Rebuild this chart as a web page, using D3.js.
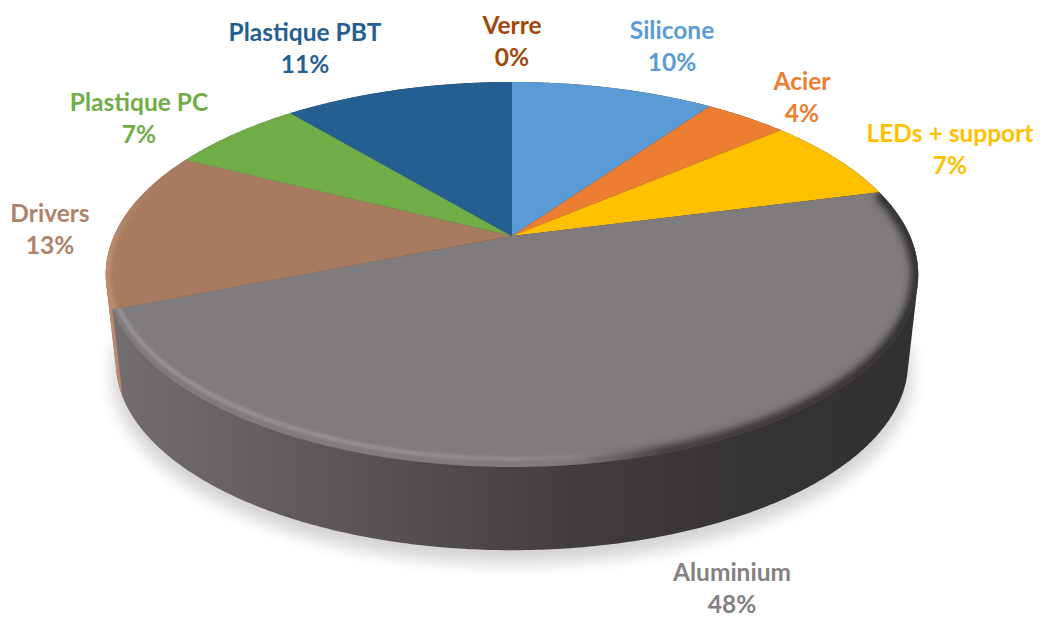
<!DOCTYPE html>
<html><head><meta charset="utf-8">
<script src="https://cdn.jsdelivr.net/npm/d3@7"></script>
<style>html,body{margin:0;padding:0;background:#fff;overflow:hidden}svg{display:block}text{font-family:Lato,"Open Sans",sans-serif;font-weight:700;font-size:24.5px;text-anchor:middle}</style>
</head><body><svg id="c" width="1043" height="617"></svg>
<script>
const categories = ["Silicone","Acier","LEDs + support","Aluminium","Drivers","Plastique PC","Plastique PBT","Verre"];
const shares = [9.8,4.0,7.2,48.0,13.4,6.5,11.1,0];
const colors = ["#5b9bd5","#ed7d31","#ffc000","#807b7c","#a87b60","#70ad47","#255e91","#9e480e"];
const labelColors = ["#5b9bd5","#ed7d31","#ffc000","#857f80","#ae8268","#70ad47","#255e91","#9e480e"];
const labelCenters = [[672,31],[802,82],[950,134],[732,573],[50,214],[139,103],[305,33],[512,26]];

const W=1043,H=617,cx=512,cy=236,A=398,B=184.8,K=0.2;
const depthY=89,depthS=0.975,lineGap=32;
const proj=(a,s=1,dy=0)=>{const u=Math.sin(a),v=-Math.cos(a),d=1-K*v;
  return [cx+s*A*u/d, cy+dy+s*B*v/d];};
const arcPts=(a0,a1,s=1,dy=0)=>{const n=Math.max(2,Math.ceil((a1-a0)/0.01));
  return d3.range(n+1).map(i=>proj(a0+(a1-a0)*i/n,s,dy));};
const line=d3.line().curve(d3.curveLinear);
const closed=p=>line(p)+"Z";
const svg=d3.select("#c");
const defs=svg.append("defs");
const blur=(id,sd)=>defs.append("filter").attr("id",id).attr("x","-20%").attr("y","-20%").attr("width","140%").attr("height","140%")
  .append("feGaussianBlur").attr("stdDeviation",sd);
blur("b8",8);blur("b2",1.8);blur("b4",3.5);
const grad=(id,x1,x2,stops)=>{const g=defs.append("linearGradient").attr("id",id).attr("gradientUnits","userSpaceOnUse")
  .attr("x1",x1).attr("x2",x2).attr("y1",0).attr("y2",0);
  stops.forEach(s=>g.append("stop").attr("offset",s[0]).attr("stop-color",s[1]).attr("stop-opacity",s[2]===undefined?1:s[2]));};
grad("side",115,905,[[0,"#726d6e"],[.2,"#625d5e"],[.4,"#514c4d"],[.6,"#403c3d"],[.8,"#363334"],[1,"#333031"]]);
grad("hi",115,905,[[0,"#9c9798"],[.3,"#9a9596"],[.5,"#948f90"],[.62,"#8a8586",.4],[.68,"#807b7c",0],[1,"#807b7c",0]]);
grad("edge",115,905,[[0,"#3a3738",0],[.58,"#3a3738",0],[.7,"#3a3738",.9],[1,"#333031"]]);
grad("driversRim",100,160,[[0,"#c69272"],[1,"#a87b60",0]]);

const all=d3.range(0,2*Math.PI+.01,.01);
const hull=d3.polygonHull(all.flatMap(a=>[proj(a),proj(a,depthS,depthY)]));
const slices=d3.pie().sort(null).value(d=>d)(shares);
const alu=slices[categories.indexOf("Aluminium")];
const dr=slices[categories.indexOf("Drivers")];

// ground shadow
svg.append("path").attr("d",closed(all.map(a=>proj(a,.985,depthY+11)))).attr("fill","#000").attr("opacity",.17).attr("filter","url(#b8)");

// side wall: full silhouette, with the drivers portion left of the slice boundary
svg.append("path").attr("d",closed(hull)).attr("fill","url(#side)");
const p0=proj(alu.endAngle),p1=proj(alu.endAngle,depthS,depthY);
const ext=[p1[0]+(p1[0]-p0[0])*2,p1[1]+(p1[1]-p0[1])*2];
const ext0=[p0[0]-(p1[0]-p0[0])*4,p0[1]-(p1[1]-p0[1])*4];
defs.append("clipPath").attr("id","drSide").append("path").attr("d",closed([ext0,ext,[0,ext[1]],[0,ext0[1]]]));
svg.append("path").attr("d",closed(hull)).attr("fill","#b98a6c").attr("clip-path","url(#drSide)");

const wedge=s=>closed([[cx,cy],...arcPts(s.startAngle,s.endAngle)]);
svg.append("g").selectAll("path").data(slices.map((s,i)=>({s,i})).filter(d=>d.s.value>0))
  .join("path").attr("d",d=>wedge(d.s)).attr("fill",d=>colors[d.i]);

// bevel on the aluminium slice
defs.append("clipPath").attr("id","aluClip").append("path").attr("d",wedge(alu));
const bevel=svg.append("g").attr("clip-path","url(#aluClip)");
bevel.append("path").attr("d",line(arcPts(alu.startAngle,alu.endAngle))).attr("fill","none").attr("stroke","url(#edge)").attr("stroke-width",15).attr("filter","url(#b4)");
bevel.append("path").attr("d",line(arcPts(alu.startAngle,alu.endAngle,.99,-6))).attr("fill","none").attr("stroke","url(#hi)").attr("stroke-width",3.5).attr("filter","url(#b2)");
// rim on drivers slice
defs.append("clipPath").attr("id","drClip").append("path").attr("d",wedge(dr));
svg.append("g").attr("clip-path","url(#drClip)").append("path").attr("d",line(arcPts(dr.startAngle,dr.endAngle))).attr("fill","none").attr("stroke","url(#driversRim)").attr("stroke-width",10).attr("filter","url(#b2)");

const lab=svg.append("g").selectAll("text").data(categories).join("text")
  .attr("fill",(d,i)=>labelColors[i]);
lab.append("tspan").attr("x",(d,i)=>labelCenters[i][0]).attr("y",(d,i)=>labelCenters[i][1]+8).text(d=>d);
lab.append("tspan").attr("x",(d,i)=>labelCenters[i][0]).attr("y",(d,i)=>labelCenters[i][1]+8+lineGap).text((d,i)=>Math.round(shares[i])+"%");
</script></body></html>
